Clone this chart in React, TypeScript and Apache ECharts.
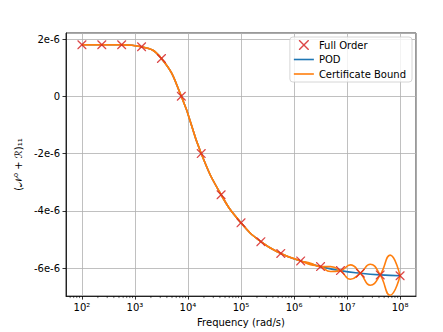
import React, { useEffect, useRef } from "react";
import * as echarts from "echarts";

// Frequencies (rad/s) of the full-order samples
const FREQ = [
  100, 237, 562, 1334, 3162, 7499, 17783, 42170, 100000, 237137, 562341,
  1333521, 3162278, 7498942, 17782794, 42169650, 100000000,
];
// Full order values (x1e-6)
const FULL_ORDER = [
  1.8, 1.8, 1.8, 1.73, 1.32, 0.0, -2.0, -3.44, -4.42, -5.08, -5.49, -5.75,
  -5.95, -6.09, -6.18, -6.24, -6.27,
];
// POD values (x1e-6)
const POD = [
  1.8, 1.8, 1.8, 1.73, 1.32, 0.0, -2.0, -3.44, -4.42, -5.08, -5.49, -5.75,
  -5.95, -6.09, -6.18, -6.24, -6.27,
];
// Certificate bound: frequencies and the two branches (x1e-6)
const BOUND_FREQ = [
  100, 237, 562, 1334, 3162, 7499, 17783, 42170, 100000, 237137, 562341,
  1333521, 2053525, 3162278, 4869675, 7498942, 11547820, 17782794, 27384196,
  42169650, 64938163, 100000000,
];
const BOUND_A = [
  1.8, 1.8, 1.8, 1.73, 1.32, 0.0, -2.0, -3.44, -4.42, -5.08, -5.49, -5.75,
  -5.83, -5.95, -5.95, -6.09, -6.39, -6.18, -5.87, -6.24, -6.95, -6.27,
];
const BOUND_B = [
  1.8, 1.8, 1.8, 1.73, 1.32, 0.0, -2.0, -3.44, -4.42, -5.08, -5.49, -5.75,
  -5.88, -5.95, -6.12, -6.09, -5.89, -6.18, -6.6, -6.24, -5.55, -6.27,
];
// Minor tick multipliers / decades for the log x axis
const MINOR_MULT = [2, 3, 4, 5, 6, 7, 8, 9];
const DECADES = [1, 2, 3, 4, 5, 6, 7, 8];

const X_MIN = Math.pow(10, 1.7);
const X_MAX = Math.pow(10, 8.3);
const Y_MIN = -6.98e-6;
const Y_MAX = 2.21e-6;

const SUP: Record<string, string> = {
  "0": "⁰", "1": "¹", "2": "²", "3": "³", "4": "⁴",
  "5": "⁵", "6": "⁶", "7": "⁷", "8": "⁸", "9": "⁹",
};

const FONT = "DejaVu Sans";
const LINE_ICON = "path://M0,0L20,0L20,1.6L0,1.6Z";
const X_PATH =
  "path://M0,0L1,0L5,4L9,0L10,0L10,1L6,5L10,9L10,10L9,10L5,6L1,10L0,10L0,9L4,5L0,1Z";

export default function App() {
  const ref = useRef<HTMLDivElement>(null);
  useEffect(() => {
    if (!ref.current) return;
    const chart = echarts.init(ref.current, undefined, { renderer: "svg" });
    const pair = (xs: number[], ys: number[]) => xs.map((x, i) => [x, ys[i] * 1e-6]);
    const minor: number[][] = [];
    DECADES.forEach((d) =>
      MINOR_MULT.forEach((m) => {
        const v = m * Math.pow(10, d);
        if (v > X_MIN && v < X_MAX) minor.push([v, Y_MIN]);
      })
    );
    chart.setOption({
      animation: false,
      textStyle: { fontFamily: FONT },
      grid: {
        left: 66,
        right: 27,
        top: 33,
        bottom: 34,
        show: true,
        borderColor: "#000",
        borderWidth: 0.8,
        backgroundColor: "transparent",
      },
      legend: {
        orient: "vertical",
        right: 31,
        top: 37,
        data: [
          { name: "Full Order" },
          { name: "POD", icon: LINE_ICON },
          { name: "Certificate Bound", icon: LINE_ICON },
        ],
        backgroundColor: "rgba(255,255,255,0.8)",
        borderColor: "#cccccc",
        borderWidth: 0.8,
        borderRadius: 3,
        padding: [3, 6, 3, 4],
        itemGap: 4.5,
        itemWidth: 20,
        itemHeight: 10,
        textStyle: { fontFamily: FONT, fontSize: 10, color: "#000", lineHeight: 10 },
      },
      xAxis: {
        type: "log",
        logBase: 10,
        min: X_MIN,
        max: X_MAX,
        name: "Frequency (rad/s)",
        nameLocation: "middle",
        nameGap: 19,
        nameTextStyle: { fontFamily: FONT, fontSize: 10, color: "#000" },
        axisLine: { show: true, onZero: false, lineStyle: { color: "#000", width: 0.8 } },
        axisTick: { show: true, length: 3.5, lineStyle: { color: "#000", width: 0.8 } },
        axisLabel: {
          showMinLabel: false,
          showMaxLabel: false,
          fontFamily: FONT,
          fontSize: 10,
          color: "#000",
          margin: 6,
          formatter: (v: number) => {
            const e = String(Math.round(Math.log10(v)));
            return "10" + e.split("").map((c) => SUP[c] || c).join("");
          },
        },
        splitLine: { show: true, lineStyle: { color: "#b0b0b0", width: 0.8 } },
      },
      yAxis: {
        type: "value",
        min: Y_MIN,
        max: Y_MAX,
        name: "(𝒩⁰ + ℛ)₁₁",
        nameLocation: "middle",
        nameRotate: 90,
        nameGap: 28,
        nameTextStyle: { fontFamily: FONT, fontSize: 10, color: "#000" },
        axisLine: { show: true, onZero: false, lineStyle: { color: "#000", width: 0.8 } },
        axisTick: { show: true, length: 3.5, lineStyle: { color: "#000", width: 0.8 } },
        axisLabel: {
          showMinLabel: false,
          showMaxLabel: false,
          fontFamily: FONT,
          fontSize: 10,
          color: "#000",
          margin: 6,
          formatter: (v: number) => {
            const r = Math.round(v * 1e6);
            return r === 0 ? "0" : `${r}e-6`;
          },
        },
        splitLine: { show: true, lineStyle: { color: "#b0b0b0", width: 0.8 } },
      },
      series: [
        {
          name: "POD",
          type: "line",
          data: pair(FREQ, POD),
          symbol: "none",
          smooth: 0.5,
          lineStyle: { color: "#1f77b4", width: 1.6 },
          itemStyle: { color: "#1f77b4" },
          z: 2,
        },
        {
          name: "Certificate Bound",
          type: "line",
          data: pair(BOUND_FREQ, BOUND_A),
          symbol: "none",
          smooth: 0.5,
          lineStyle: { color: "#ff7f0e", width: 1.6 },
          itemStyle: { color: "#ff7f0e" },
          z: 3,
        },
        {
          name: "Certificate Bound",
          type: "line",
          data: pair(BOUND_FREQ, BOUND_B),
          symbol: "none",
          smooth: 0.5,
          lineStyle: { color: "#ff7f0e", width: 1.6 },
          itemStyle: { color: "#ff7f0e" },
          z: 3,
        },
        {
          name: "Full Order",
          type: "scatter",
          data: pair(FREQ, FULL_ORDER),
          symbol: X_PATH,
          symbolSize: 9,
          symbolKeepAspect: true,
          itemStyle: { color: "#d62728", opacity: 0.85 },
          z: 4,
        },
        {
          type: "custom",
          silent: true,
          data: minor,
          clip: false,
          z: 5,
          renderItem: (_p: any, api: any) => {
            const pt = api.coord([api.value(0), api.value(1)]);
            return {
              type: "line",
              shape: { x1: pt[0], y1: pt[1], x2: pt[0], y2: pt[1] + 2 },
              style: { stroke: "#000", lineWidth: 0.6 },
            };
          },
        },
      ],
    });
    return () => chart.dispose();
  }, []);
  return (
    <div
      ref={ref}
      style={{ position: "fixed", left: 0, top: 0, width: 443, height: 332, background: "#fff" }}
    />
  );
}
